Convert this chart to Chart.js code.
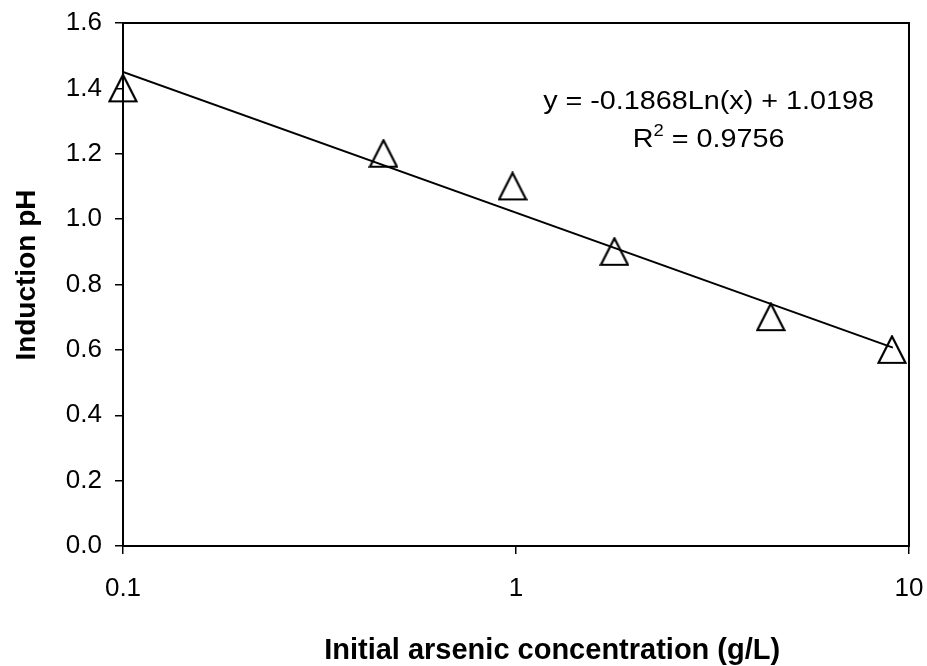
<!DOCTYPE html>
<html>
<head>
<meta charset="utf-8">
<script src="https://cdn.jsdelivr.net/npm/chart.js@4.4.1/dist/chart.umd.min.js"></script>
<style>
  html, body { margin: 0; padding: 0; background: #fff; }
  #wrap { width: 927px; height: 666px; }
</style>
</head>
<body>
<div id="wrap"><canvas id="chart"></canvas></div>
<script>
// measured points (x = initial arsenic g/L, y = induction pH)
const concentrations = [0.1, 0.46, 0.98, 1.78, 4.45, 9.05];
const inductionPH = [1.4, 1.2, 1.1, 0.9, 0.7, 0.6];

// log trendline end points
const trendX = [0.1, 9.1];
const trendY = [1.45, 0.607];

const xTicks = [0.1, 1, 10];
const yTicks = [0, 0.2, 0.4, 0.6, 0.8, 1.0, 1.2, 1.4, 1.6];

const xTitle = 'Initial arsenic concentration (g/L)';
const yTitle = 'Induction pH';
const eqLine1 = 'y = -0.1868Ln(x) + 1.0198';
const eqLine2 = ['R', '2', ' = 0.9756'];

const FONT = "'Liberation Sans', Arial, sans-serif";

// open triangle marker
function makeTriangle() {
  const c = document.createElement('canvas');
  c.width = 30; c.height = 30;
  const g = c.getContext('2d');
  g.strokeStyle = '#000';
  g.lineWidth = 2.2;
  g.lineJoin = 'miter';
  g.beginPath();
  g.moveTo(15, 1.5);
  g.lineTo(28.5, 28);
  g.lineTo(1.5, 28);
  g.closePath();
  g.stroke();
  return c;
}

const frameAndLabel = {
  id: 'frameAndLabel',
  afterDatasetsDraw(chart) {
    const { ctx, chartArea: a } = chart;
    ctx.save();
    ctx.strokeStyle = '#000';
    ctx.lineWidth = 2;
    ctx.strokeRect(a.left, a.top, a.right - a.left, a.bottom - a.top);
    ctx.fillStyle = '#000';

    // axis titles (Excel puts the x title a bit right of centre)
    ctx.font = 'bold 29px ' + FONT;
    ctx.textAlign = 'center';
    ctx.textBaseline = 'alphabetic';
    ctx.fillText(xTitle, a.left + (a.right - a.left) * 0.546, chart.height - 7);

    ctx.save();
    ctx.translate(35, a.top + (a.bottom - a.top) * 0.482);
    ctx.rotate(-Math.PI / 2);
    ctx.font = 'bold 28px ' + FONT;
    ctx.fillText(yTitle, 0, 0);
    ctx.restore();

    // equation text, drawn a bit wide like the original
    ctx.save();
    const cx = a.left + (a.right - a.left) * 0.745;
    ctx.translate(cx, 0);
    ctx.scale(1.15, 1);
    ctx.font = '25px ' + FONT;
    ctx.textBaseline = 'middle';
    ctx.textAlign = 'center';
    ctx.fillText(eqLine1, 0, a.top + (a.bottom - a.top) * 0.152);

    // R² line with superscript
    const y2 = a.top + (a.bottom - a.top) * 0.224;
    const w0 = ctx.measureText(eqLine2[0]).width;
    const w2 = ctx.measureText(eqLine2[2]).width;
    ctx.font = '16px ' + FONT;
    const w1 = ctx.measureText(eqLine2[1]).width;
    let x = -(w0 + w1 + w2) / 2;
    ctx.textAlign = 'left';
    ctx.font = '25px ' + FONT;
    ctx.fillText(eqLine2[0], x, y2);
    x += w0;
    ctx.font = '16px ' + FONT;
    ctx.fillText(eqLine2[1], x, y2 - 9);
    x += w1;
    ctx.font = '25px ' + FONT;
    ctx.fillText(eqLine2[2], x, y2);
    ctx.restore();
    ctx.restore();
  }
};

const points = concentrations.map((x, i) => ({ x: x, y: inductionPH[i] }));
const trend = trendX.map((x, i) => ({ x: x, y: trendY[i] }));

new Chart(document.getElementById('chart'), {
  type: 'scatter',
  data: {
    datasets: [
      {
        label: 'Log trend',
        type: 'line',
        data: trend,
        borderColor: '#000',
        borderWidth: 2,
        pointRadius: 0,
        fill: false,
        tension: 0
      },
      {
        label: 'Induction pH',
        data: points,
        pointStyle: makeTriangle(),
        pointRadius: 13,
        clip: false
      }
    ]
  },
  options: {
    responsive: true,
    maintainAspectRatio: false,
    animation: false,
    layout: { padding: { left: 0, right: 18, top: 23, bottom: 0 } },
    plugins: {
      legend: { display: false },
      tooltip: { enabled: false }
    },
    scales: {
      x: {
        type: 'logarithmic',
        min: 0.1,
        max: 10,
        afterBuildTicks: (scale) => { scale.ticks = xTicks.map(v => ({ value: v })); },
        afterFit: (scale) => {
          scale.height = 120;
          scale.paddingLeft = 0;
          scale.paddingRight = 0;
        },
        border: { display: false },
        grid: { drawOnChartArea: false, color: '#000', tickLength: 8, lineWidth: 1.5 },
        ticks: {
          color: '#000',
          font: { family: FONT, size: 26 },
          padding: 19,
          maxRotation: 0,
          callback: (v) => String(v)
        },
        title: { display: false }
      },
      y: {
        min: 0,
        max: 1.6,
        afterBuildTicks: (scale) => { scale.ticks = yTicks.map(v => ({ value: v })); },
        afterFit: (scale) => {
          scale.width = 123;
          scale.paddingTop = 0;
          scale.paddingBottom = 0;
        },
        border: { display: false },
        grid: { drawOnChartArea: false, color: '#000', tickLength: 8, lineWidth: 1.5 },
        ticks: {
          color: '#000',
          font: { family: FONT, size: 26 },
          padding: 13,
          callback: (v) => v.toFixed(1)
        },
        title: { display: false }
      }
    }
  },
  plugins: [frameAndLabel]
});
</script>
</body>
</html>
